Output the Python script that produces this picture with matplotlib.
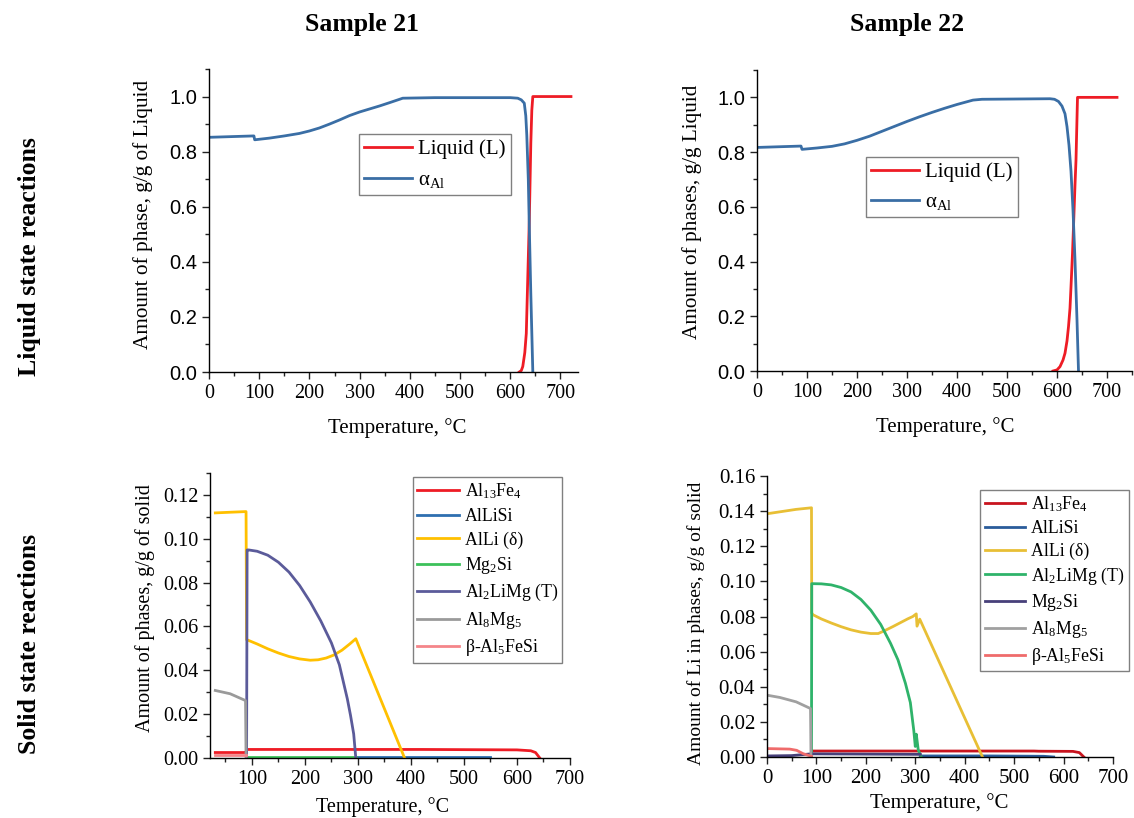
import numpy as np
import matplotlib.pyplot as plt
from matplotlib.ticker import MultipleLocator

plt.rcParams['font.family'] = ['Liberation Serif', 'DejaVu Serif']
plt.rcParams['mathtext.fontset'] = 'custom'
plt.rcParams['mathtext.rm'] = 'Liberation Serif'
plt.rcParams['mathtext.it'] = 'Liberation Serif:italic'
plt.rcParams['axes.linewidth'] = 1.0

# ---------------- Sample 21, liquid state ----------------
t21_liq = [618, 622, 625, 629, 632, 635, 638, 641, 643, 645, 721]
liq21 = [0.0, 0.005, 0.02, 0.07, 0.14, 0.345, 0.55, 0.83, 0.95, 1.0, 1.0]
t21_al = [0, 88, 89.5, 91, 120, 150, 180, 200, 220, 240, 260, 280, 300, 320, 340, 360, 386,
          450, 600, 615, 622, 628, 631, 633, 636, 638, 641, 645]
al21 = [0.852, 0.857, 0.857, 0.843, 0.849, 0.857, 0.866, 0.875, 0.886, 0.900, 0.915, 0.931,
        0.944, 0.955, 0.966, 0.978, 0.994, 0.996, 0.996, 0.994, 0.988, 0.976, 0.930, 0.860,
        0.700, 0.527, 0.285, 0.0]

# ---------------- Sample 22, liquid state ----------------
t22_liq = [592, 600, 606, 612, 616, 620, 623, 626, 628, 631, 633, 636, 638, 641, 720]
liq22 = [0.0, 0.004, 0.016, 0.040, 0.065, 0.110, 0.162, 0.230, 0.308, 0.430, 0.527, 0.680,
         0.771, 1.0, 1.0]
t22_al = [0, 88, 90, 120, 150, 175, 200, 225, 250, 275, 300, 325, 350, 375, 400, 432, 450,
          586, 595, 603, 610, 616, 620, 624, 628, 632, 636, 640, 643]
al22 = [0.817, 0.822, 0.810, 0.815, 0.821, 0.830, 0.843, 0.858, 0.876, 0.894, 0.912, 0.929,
        0.945, 0.960, 0.974, 0.990, 0.993, 0.995, 0.993, 0.985, 0.968, 0.940, 0.893, 0.825,
        0.730, 0.588, 0.405, 0.186, 0.0]

# ---------------- Sample 21, solid state ----------------
s21_fe_t = [31, 88, 89, 90, 420, 600, 626, 635, 643]
s21_fe = [0.0025, 0.0025, 0.0025, 0.0039, 0.0039, 0.0037, 0.0033, 0.0025, 0.0]
s21_lisi_t = [296, 550]
s21_lisi = [0.0003, 0.0003]
s21_alli_t = [31, 59, 89, 90, 110, 130, 150, 170, 190, 210, 225, 240, 255, 270, 285, 296, 388]
s21_alli = [0.1118, 0.1121, 0.1124, 0.0540, 0.0520, 0.0498, 0.0479, 0.0463, 0.0452, 0.0446,
            0.0448, 0.0456, 0.0470, 0.0492, 0.0521, 0.0544, 0.0]
s21_mgsi_t = [90, 296]
s21_mgsi = [0.0004, 0.0004]
s21_t_t = [90, 91, 94, 110, 130, 150, 170, 190, 210, 230, 250, 265, 280, 286, 292, 296]
s21_t = [0.0, 0.0949, 0.0949, 0.0943, 0.0925, 0.0893, 0.0848, 0.0787, 0.0712, 0.0625, 0.0525,
         0.0425, 0.0270, 0.0195, 0.0110, 0.0]
s21_mg5_t = [31, 59, 88, 89]
s21_mg5 = [0.0308, 0.0293, 0.0262, 0.0]
s21_beta_t = [31, 89]
s21_beta = [0.0012, 0.0012]

# ---------------- Sample 22, solid state ----------------
s22_fe_t = [90, 540, 550, 619, 632, 641]
s22_fe = [0.0034, 0.0034, 0.0033, 0.0032, 0.0025, 0.0]
s22_lisi_t = [310, 450, 560, 580]
s22_lisi = [0.0006, 0.0006, 0.0004, 0.0]
s22_alli_t = [0, 26, 59, 90, 90.5, 93, 110, 130, 150, 170, 190, 210, 225, 240, 255, 270, 285,
              295, 302, 303.5, 309, 436]
s22_alli = [0.1385, 0.1396, 0.1410, 0.1419, 0.0820, 0.0810, 0.0786, 0.0763, 0.0742, 0.0724,
            0.0711, 0.0703, 0.0703, 0.0722, 0.0743, 0.0765, 0.0787, 0.0800, 0.0815, 0.0745,
            0.0785, 0.0]
s22_t_t = [90, 90.5, 110, 130, 150, 170, 190, 210, 230, 250, 265, 280, 290, 297, 300, 302, 306, 312]
s22_t = [0.0, 0.0987, 0.0986, 0.0980, 0.0965, 0.0940, 0.0897, 0.0836, 0.0755, 0.0647, 0.0553,
         0.0420, 0.0310, 0.0150, 0.0060, 0.0130, 0.0040, 0.0]
s22_mgsi_t = [0, 50, 90, 310]
s22_mgsi = [0.0006, 0.0008, 0.0018, 0.0015]
s22_mg5_t = [0, 26, 59, 88, 89]
s22_mg5 = [0.0352, 0.0339, 0.0314, 0.0276, 0.0]
s22_beta_t = [0, 46, 60, 73, 90]
s22_beta = [0.0048, 0.0045, 0.0038, 0.0019, 0.0004]

RED = '#ee1c25'
BLUE = '#3a6ea5'
LW = 2.0

fig = plt.figure(figsize=(11.34, 8.18), dpi=100)
W, H = 1134, 818


def add_ax(l, t, r, b):
    return fig.add_axes([l / W, 1 - b / H, (r - l) / W, (b - t) / H])


def style(ax, xmaj, xmin, ymaj, ymin):
    ax.spines['top'].set_visible(False)
    ax.spines['right'].set_visible(False)
    ax.xaxis.set_major_locator(MultipleLocator(xmaj))
    ax.xaxis.set_minor_locator(MultipleLocator(xmin))
    ax.yaxis.set_major_locator(MultipleLocator(ymaj))
    ax.yaxis.set_minor_locator(MultipleLocator(ymin))
    ax.tick_params(which='major', direction='out', length=5, width=1, labelsize=14.5,
                   colors='#222222', labelcolor='black')
    ax.tick_params(which='minor', direction='out', length=3, width=1, colors='#222222')


def legend(ax, x, y, fs, **kw):
    leg = ax.legend(loc='upper left', bbox_to_anchor=(x, y), fontsize=fs, frameon=True,
                    fancybox=False, edgecolor='#808080', framealpha=1, borderaxespad=0,
                    borderpad=0.25, handletextpad=0.3, **kw)
    leg.get_frame().set_linewidth(1.0)
    return leg


# ---- top-left
ax1 = add_ax(209, 69, 578, 372)
ax1.plot(t21_liq, liq21, color=RED, lw=LW, label='Liquid (L)')
ax1.plot(t21_al, al21, color=BLUE, lw=LW, label='α$_{\\mathrm{Al}}$')
ax1.set_xlim(0, 735)
ax1.set_ylim(0, 1.1)
style(ax1, 100, 50, 0.2, 0.1)
yt = np.arange(0, 1.01, 0.2)
ax1.set_yticks(yt, labels=[f'{v:.1f}' for v in yt], fontfamily='Liberation Sans')
ax1.set_ylabel('Amount of phase, g/g of Liquid', fontsize=15.3)
ax1.yaxis.set_label_coords(-0.152, 0.52)
ax1.set_xlabel('Temperature, °C', fontsize=15)
ax1.xaxis.set_label_coords(0.511, -0.152)
legend(ax1, 0.4065, 0.7855, 15, handlelength=2.3, labelspacing=0.55)

# ---- top-right
ax2 = add_ax(757, 70, 1132, 371)
ax2.plot(t22_liq, liq22, color=RED, lw=LW, label='Liquid (L)')
ax2.plot(t22_al, al22, color=BLUE, lw=LW, label='α$_{\\mathrm{Al}}$')
ax2.set_xlim(0, 750)
ax2.set_ylim(0, 1.1)
style(ax2, 100, 50, 0.2, 0.1)
ax2.set_yticks(yt, labels=[f'{v:.1f}' for v in yt], fontfamily='Liberation Sans')
ax2.set_ylabel('Amount of phases, g/g Liquid', fontsize=15.3)
ax2.yaxis.set_label_coords(-0.147, 0.53)
ax2.set_xlabel('Temperature, °C', fontsize=15)
ax2.xaxis.set_label_coords(0.501, -0.153)
legend(ax2, 0.2907, 0.711, 15, handlelength=2.3, labelspacing=0.5)

# ---- bottom-left
ax3 = add_ax(210, 473, 570, 758)
ax3.plot(s21_fe_t, s21_fe, color='#ee1c25', lw=LW, label='Al$_{13}$Fe$_4$')
ax3.plot(s21_lisi_t, s21_lisi, color='#2e6fb0', lw=LW, label='AlLiSi')
ax3.plot(s21_alli_t, s21_alli, color='#ffc000', lw=LW, label='AlLi (δ)')
ax3.plot(s21_mgsi_t, s21_mgsi, color='#3cc15a', lw=LW, label='Mg$_2$Si')
ax3.plot(s21_t_t, s21_t, color='#5b5b9a', lw=LW, label='Al$_2$LiMg (T)')
ax3.plot(s21_mg5_t, s21_mg5, color='#9a9a9a', lw=LW, label='Al$_8$Mg$_5$')
ax3.plot(s21_beta_t, s21_beta, color='#f4858a', lw=LW, label='β-Al$_5$FeSi')
ax3.set_xlim(21, 700)
ax3.set_ylim(0, 0.13)
style(ax3, 100, 50, 0.02, 0.01)
yt3 = np.arange(0, 0.121, 0.02)
ax3.set_yticks(yt3, labels=[f'{v:.2f}' for v in yt3])
ax3.set_ylabel('Amount of phases, g/g of solid', fontsize=14.5)
ax3.yaxis.set_label_coords(-0.153, 0.527)
ax3.set_xlabel('Temperature, °C', fontsize=14.5)
ax3.xaxis.set_label_coords(0.479, -0.138)
legend(ax3, 0.564, 0.985, 12.8, handlelength=2.35, labelspacing=0.36)

# ---- bottom-right
ax4 = add_ax(767, 476, 1113, 757)
ax4.plot(s22_fe_t, s22_fe, color='#c8141e', lw=LW, label='Al$_{13}$Fe$_4$')
ax4.plot(s22_lisi_t, s22_lisi, color='#2a5c9a', lw=LW, label='AlLiSi')
ax4.plot(s22_alli_t, s22_alli, color='#e8bf35', lw=LW, label='AlLi (δ)')
ax4.plot(s22_t_t, s22_t, color='#2fb36a', lw=LW, label='Al$_2$LiMg (T)')
ax4.plot(s22_mgsi_t, s22_mgsi, color='#47407a', lw=LW, label='Mg$_2$Si')
ax4.plot(s22_mg5_t, s22_mg5, color='#a0a0a0', lw=LW, label='Al$_8$Mg$_5$')
ax4.plot(s22_beta_t, s22_beta, color='#ef6b6b', lw=LW, label='β-Al$_5$FeSi')
ax4.set_xlim(0, 700)
ax4.set_ylim(0, 0.16)
style(ax4, 100, 50, 0.02, 0.01)
yt4 = np.arange(0, 0.161, 0.02)
ax4.set_yticks(yt4, labels=[f'{v:.2f}' for v in yt4])
ax4.tick_params(labelsize=15)
ax4.set_ylabel('Amount of Li in phases, g/g of solid', fontsize=14)
ax4.yaxis.set_label_coords(-0.179, 0.475)
ax4.set_xlabel('Temperature, °C', fontsize=15)
ax4.xaxis.set_label_coords(0.499, -0.129)
legend(ax4, 0.616, 0.95, 12.8, handlelength=2.3, labelspacing=0.32)

# column and row headings
fig.text(362 / W, 1 - 25 / H, 'Sample 21', ha='center', va='center', fontsize=18.5,
         fontweight='bold')
fig.text(907 / W, 1 - 25 / H, 'Sample 22', ha='center', va='center', fontsize=18.5,
         fontweight='bold')
fig.text(30 / W, 1 - 257 / H, 'Liquid state reactions', ha='center', va='center', rotation=90,
         fontsize=18.5, fontweight='bold')
fig.text(30 / W, 1 - 644 / H, 'Solid state reactions', ha='center', va='center', rotation=90,
         fontsize=18.5, fontweight='bold')

fig.savefig('out.png', dpi=100)
